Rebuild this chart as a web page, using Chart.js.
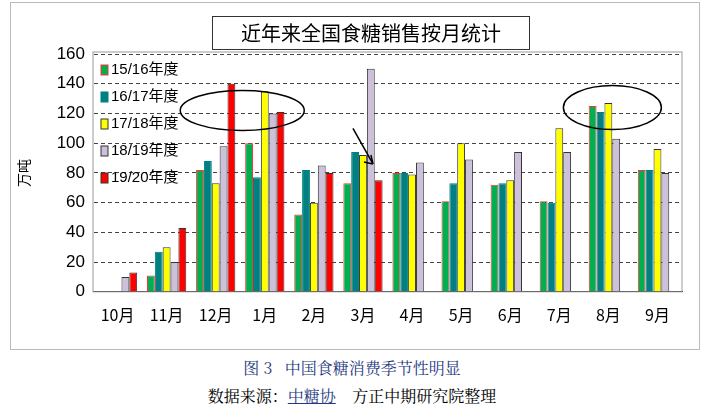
<!DOCTYPE html><html><head><meta charset="utf-8">
<script src="https://cdn.jsdelivr.net/npm/chart.js@4"></script>
<style>body{margin:0;background:#fff;width:704px;height:411px;position:relative;font-family:"Noto Sans CJK SC";}
#box{position:absolute;left:10px;top:2px;width:688px;height:346px;border:1px solid #bbb;}
#title{position:absolute;left:212px;top:16px;width:316px;height:32px;border:1px solid #333;font-size:20px;text-align:center;line-height:32px;}
.cap{position:absolute;width:704px;text-align:center;font-family:"Noto Serif CJK SC","Noto Sans CJK SC";font-size:16px;}
</style></head><body>
<div id="box"><canvas id="c" width="688" height="346"></canvas></div>
<div id="title">近年来全国食糖销售按月统计</div>
<div class="cap" style="top:356px;color:#1F3A80">图 3&nbsp;&nbsp;&nbsp;中国食糖消费季节性明显</div>
<div class="cap" style="top:384px">数据来源：<span style="color:#1F3A80;text-decoration:underline">中糖协</span>&nbsp;&nbsp;&nbsp;&nbsp;方正中期研究院整理</div>
<script>
const months=["10月","11月","12月","1月","2月","3月","4月","5月","6月","7月","8月","9月"];
const s1516=[null,11,82,100,52,73,80,61,72,61,125,82];
const s1617=[null,27,88,77,82,94,80,73,73,60,121,82];
const s1718=[null,30,73,135,60,92,79,100,75,110,127,96];
const s1819=[10,20,98,120,85,150,87,89,94,94,103,80];
const s1920=[13,43,140,121,80,75,null,null,null,null,null,null];
const yTicks=[0,20,40,60,80,100,120,140,160];
const mk=(l,d,c,b)=>({label:l,data:d,backgroundColor:c,borderColor:b,borderWidth:1,categoryPercentage:0.8,barPercentage:1});
const deco={id:'deco',afterDatasetsDraw(ch){const x=ch.scales.x,y=ch.scales.y,c=ch.ctx;c.save();c.strokeStyle='#000';c.lineWidth=1.5;
const el=(cx,cy,rx,ry)=>{c.beginPath();c.ellipse(cx,cy,rx,ry,0,0,Math.PI*2);c.stroke();};
el((x.getPixelForValue(2)+x.getPixelForValue(3))/2+2,y.getPixelForValue(122),62,20);
el(x.getPixelForValue(10)+4,y.getPixelForValue(124),49,22);
const ax=x.getPixelForValue(5),x0=ax-10,y0=y.getPixelForValue(110),x1=ax+10,y1=y.getPixelForValue(86);
c.beginPath();c.moveTo(x0,y0);c.lineTo(x1,y1);c.stroke();
c.beginPath();c.moveTo(x1,y1);c.lineTo(x1-9,y1-2);c.moveTo(x1,y1);c.lineTo(x1-2,y1-9);c.stroke();c.restore();}};
new Chart(document.getElementById('c'),{type:'bar',
data:{labels:months,datasets:[mk('15/16年度',s1516,'#00B050','#FF3333'),mk('16/17年度',s1617,'#008080','#008080'),mk('17/18年度',s1718,'#FFFF00','#333'),mk('18/19年度',s1819,'#CCC0DA','#333'),mk('19/20年度',s1920,'#FF0000','#333')]},
options:{responsive:false,animation:false,layout:{padding:{left:0,right:17,top:51,bottom:18}},
plugins:{legend:{display:false},tooltip:{enabled:false}},
scales:{x:{grid:{display:false,drawTicks:true},border:{color:'#000'},ticks:{color:'#000',font:{size:16,family:'Noto Sans CJK SC'},padding:6}},
y:{min:0,max:160,afterBuildTicks:a=>{a.ticks=yTicks.map(v=>({value:v}));},afterFit:a=>{a.width=82;},
title:{display:true,text:'万吨',color:'#000',font:{size:14,family:'Noto Sans CJK SC'}},
grid:{color:'#444',drawTicks:false},border:{display:true,color:'rgba(0,0,0,0)',dash:[4,3]},
ticks:{color:'#000',font:{size:17,family:'Liberation Sans'},padding:8}}}},
plugins:[deco,{id:'frame',beforeDatasetsDraw(ch){const a=ch.chartArea,c=ch.ctx;c.save();c.strokeStyle='#999';c.strokeRect(a.left,a.top-2,a.right-a.left,a.bottom-a.top+2);c.restore();},
afterDraw(ch){const c=ch.ctx,a=ch.chartArea;c.save();c.font='15px "Liberation Sans","Noto Sans CJK SC"';c.textBaseline='middle';
ch.data.datasets.forEach((d,i)=>{const yy=a.top+16+i*27;c.fillStyle=d.backgroundColor;c.strokeStyle=d.borderColor;c.fillRect(a.left+8,yy-5,7,10);c.strokeRect(a.left+8,yy-5,7,10);c.fillStyle='#000';c.fillText(d.label,a.left+18,yy);});c.restore();}}]});
</script></body></html>
